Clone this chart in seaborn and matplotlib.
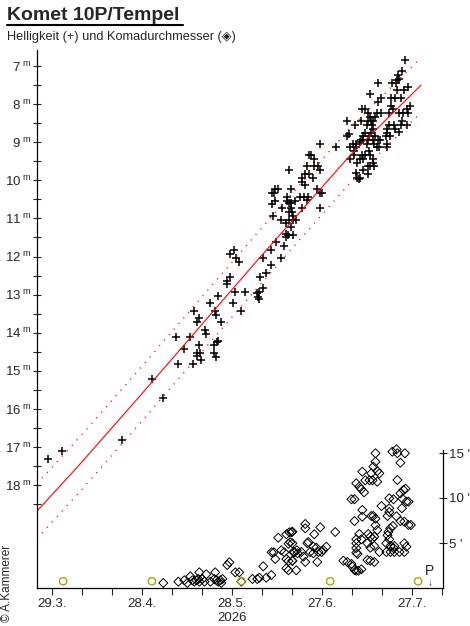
import matplotlib
matplotlib.use("Agg")
import pandas as pd
import matplotlib.pyplot as plt
import seaborn as sns
from matplotlib.lines import Line2D
from matplotlib.ticker import FixedLocator, MultipleLocator

# days counted from 29.3.2026
mag_day = [
    -1.1, 3.5, 23.4, 33.5, 37.2,
    60.9, 59.5, 61.5, 62.5, 59.5, 58.5, 58.5, 55.5, 52.9, 61.2, 64.5, 60.5, 63.2, 47.5, 54.5,
    54.7, 49.2, 48.5, 56.5, 51.2, 51.5, 41.5, 46.2, 55.5, 55.2, 49.2, 54.2, 44.2, 48.3, 49.5,
    48.5, 54.2, 54.7, 49.9, 42.2, 47.2,
    89.5, 94.7, 85.9, 86.5, 87.5, 85.2, 87.5, 88.9, 89.5, 79.2, 84.5, 85.9, 83.5, 87.2, 83.5,
    84.5, 79.7, 88.5, 74.5, 75.5, 73.5, 74.2, 89.5, 90.2, 78.5, 82.9, 84.2, 85.5, 74.5, 78.5,
    79.2, 79.9, 81.2, 73.5, 85.2, 76.9, 79.9, 83.5, 89.5, 79.2, 80.2, 80.5, 73.9, 76.5, 79.2,
    80.5, 81.5, 78.2, 79.9, 78.2, 78.2, 78.9, 80.5, 74.9, 77.5, 73.2, 70.5, 76.5, 73.2, 71.5,
    69.5, 70.5, 69.2, 68.5, 68.9, 69.2,
    117.9, 116.9, 115.5, 115.9, 115.2, 113.5, 114.9, 108.9, 118.9, 117.5, 115.2, 106.2, 113.2,
    114.5, 116.5, 109.9, 108.9,
    113.0, 119.4, 103.5, 104.5, 113.7, 118.3, 105.5, 108.5, 109.9, 112.5, 115.7, 117.0, 118.7,
    106.2, 107.9, 98.5, 103.2, 105.5, 106.5, 107.2, 116.7, 101.2, 105.2, 106.9, 112.5, 114.0,
    116.3, 118.3, 107.2, 111.9, 114.5, 104.5, 106.5, 111.9, 115.7, 98.5, 99.2, 103.9, 105.9,
    107.9, 111.5, 112.9, 103.2, 103.9, 105.5, 107.2, 108.9, 109.5, 100.5, 101.5, 102.9, 105.2,
    107.5, 111.9, 99.5, 101.5, 108.5, 109.2, 111.9, 100.9, 105.9, 100.9, 103.5, 104.5, 106.2,
    99.5, 102.9, 103.9, 107.2, 101.9, 107.2, 105.5, 106.2, 107.5, 103.9, 101.5, 105.5, 101.9,
    102.9, 102.5,
]
mag_val = [
    17.32, 17.11, 16.82, 15.22, 15.72,
    11.84, 11.94, 12.05, 12.14, 12.55, 12.64, 12.73, 13.04, 13.22, 12.94, 12.94, 13.22, 13.43,
    13.43, 13.43, 13.54, 13.62, 13.73, 13.73, 13.92, 14.04, 14.12, 14.12, 14.21, 14.25, 14.33,
    14.33, 14.44, 14.54, 14.54, 14.60, 14.54, 14.63, 14.72, 14.83, 14.83,
    9.06, 9.12, 9.34, 9.34, 9.44, 9.62, 9.62, 9.62, 9.74, 9.74, 9.83, 9.83, 9.95, 9.95, 10.05,
    10.12, 10.24, 10.24, 10.24, 10.24, 10.34, 10.34, 10.34, 10.34, 10.45, 10.45, 10.45, 10.45,
    10.55, 10.55, 10.60, 10.60, 10.55, 10.63, 10.52, 10.73, 10.73, 10.73, 10.73, 10.84, 10.84,
    10.94, 10.94, 11.05, 11.05, 11.05, 11.05, 11.13, 11.23, 11.42, 11.48, 11.44, 11.44, 11.62,
    11.73, 11.84, 12.04, 12.04, 12.23, 12.43, 12.54, 12.83, 12.93, 12.97, 13.07, 13.12,
    6.85, 7.14, 7.24, 7.35, 7.38, 7.45, 7.45, 7.45, 7.56, 7.64, 7.64, 7.74, 7.85, 7.85, 7.85,
    7.85, 7.95,
    8.05, 8.05, 8.14, 8.14, 8.14, 8.14, 8.24, 8.24, 8.24, 8.24, 8.24, 8.24, 8.24,
    8.35, 8.35, 8.45, 8.45, 8.45, 8.45, 8.45, 8.45, 8.56, 8.56, 8.56, 8.56, 8.56,
    8.56, 8.56, 8.66, 8.66, 8.66, 8.77, 8.77, 8.77, 8.74, 8.85, 8.79, 8.85, 8.85,
    8.85, 8.85, 8.85, 8.95, 8.95, 8.95, 8.95, 8.95, 8.95, 9.04, 9.04, 8.99, 9.04,
    9.04, 9.04, 9.13, 9.13, 9.13, 9.13, 9.13, 9.24, 9.24, 9.34, 9.34, 9.34, 9.34,
    9.45, 9.45, 9.45, 9.45, 9.55, 9.55, 9.62, 9.62, 9.62, 9.74, 9.82, 9.84, 9.93,
    9.93, 9.97,
]

coma_day = [
    37.2, 42.2, 44.2, 45.2, 46.2, 46.9, 47.5, 48.2, 48.9, 49.2, 49.2, 50.2, 50.9, 51.5, 52.9,
    54.5, 54.2, 54.9, 55.5, 56.2, 56.5, 56.9, 58.5, 59.2, 61.2, 62.5, 63.2, 66.9, 68.5, 69.2,
    71.5, 73.2, 70.5, 74.5, 73.3, 74.0, 76.5, 77.5, 75.5, 78.2, 79.2, 79.9, 78.9, 79.5, 78.2,
    78.9, 80.2, 80.9, 81.7, 78.2, 78.9, 81.5,
    80.2, 80.2, 80.5, 81.9, 80.2, 84.5, 84.5, 87.5, 89.5, 85.2, 85.5, 87.2, 88.2, 88.9, 89.9,
    90.5, 91.5, 83.2, 83.9, 84.5, 86.1, 87.2, 88.5, 94.5, 97.2, 98.5, 99.9,
    99.9, 100.9, 100.9, 101.5, 102.5, 103.2, 104.1, 103.5, 104.5, 105.9, 106.9, 106.5, 107.2,
    107.9, 107.9, 108.5, 108.5, 109.2, 103.5, 103.5, 106.5, 107.2, 107.9, 108.5, 107.9, 102.5,
    103.2, 101.5, 101.5, 101.5, 101.5, 101.9, 105.5, 106.2, 106.9, 107.5, 105.2, 106.2, 107.5,
    105.2, 106.2, 107.5, 100.2, 100.9, 101.5, 102.2, 103.2, 109.2, 109.9,
    112.5, 113.9, 112.5, 112.5, 111.9, 114.9, 116.2, 113.7, 112.8, 112.2, 111.9, 112.5, 111.5,
    112.9, 114.2, 113.9, 117.5, 118.2, 111.5, 112.9, 114.2, 115.9, 117.5, 117.5, 118.9, 119.7,
    117.2, 117.9, 115.2, 116.2, 116.9, 118.2, 118.9, 116.7, 113.5, 114.9, 115.2, 117.7, 116.2,
]
coma_val = [
    0.56, 0.70, 0.86, 0.56, 1.30, 0.86, 0.70, 0.86, 1.00, 0.70, 1.74, 1.00, 0.70, 1.52, 0.70,
    1.74, 1.00, 0.86, 0.70, 0.86, 0.56, 1.00, 2.56, 2.86, 1.74, 1.74, 0.70, 1.00, 1.00, 1.14,
    1.14, 1.44, 2.41, 3.22, 3.97, 3.97, 4.19, 3.97, 5.59, 5.97, 6.19, 6.19, 4.92, 5.08, 3.22,
    3.00, 3.00, 3.97, 4.19, 2.19, 1.97, 1.97,
    6.26, 4.97, 4.00, 3.86, 3.03, 7.11, 6.63, 5.97, 6.74, 4.97, 5.11, 4.59, 4.48, 4.00, 4.00,
    4.22, 4.59, 4.00, 3.48, 2.89, 4.00, 3.86, 2.89, 6.22, 3.03, 2.89, 2.67,
    9.86, 9.86, 7.44, 11.63, 11.26, 10.97, 10.63, 12.92, 11.97, 11.97, 11.97, 12.74, 13.48,
    14.03, 14.97, 13.00, 11.81, 12.74, 8.67, 7.92, 8.00, 8.00, 7.70, 6.44, 6.97, 6.00,
    5.41, 5.41, 4.97, 4.44, 3.92, 3.78, 6.00, 5.70, 5.48, 5.70, 4.97, 4.48, 4.67,
    3.11, 3.03, 2.89, 2.37, 2.00, 1.92, 1.92, 2.08, 4.00, 9.11,
    9.97, 9.86, 8.86, 8.44, 8.00, 7.97, 7.44, 6.89, 6.63, 6.22, 5.86, 5.41, 4.97,
    4.67, 4.67, 4.44, 4.97, 4.59, 4.00, 4.00, 4.00, 4.00, 4.00, 7.37, 7.00, 7.00,
    10.89, 11.03, 12.00, 10.52, 9.92, 9.59, 9.59, 8.86, 15.14, 15.41, 14.97, 14.97, 13.92,
]

# brightness fit (red) and its band
fit_day = [-4.9, 9.2, 29.4, 69.1, 99.4, 123.1]
fit_mag = [18.68, 17.47, 15.66, 12.05, 9.35, 7.50]
fit_band = 0.72

moon_day = [3.8, 33.4, 63.2, 92.8, 122.1]
perihel_day = 126

date_ticks = [0, 30, 60, 90, 120]
date_labels = ["29.3.", "28.4.", "28.5.", "27.6.", "27.7."]
mag_ticks = list(range(7, 19))
coma_ticks = [5, 10, 15]

sns.set_style("white")
plt.rcParams['font.family'] = ['Liberation Sans', 'DejaVu Sans']
plt.rcParams['mathtext.fontset'] = 'custom'
plt.rcParams['mathtext.rm'] = 'Liberation Sans'

mag_df = pd.DataFrame({"day": mag_day, "mag": mag_val})
coma_df = pd.DataFrame({"day": coma_day, "coma": coma_val})
fit_df = pd.DataFrame({"day": fit_day, "mag": fit_mag})
fit_df["upper"] = fit_df["mag"] - fit_band
fit_df["lower"] = fit_df["mag"] + fit_band

fig = plt.figure(figsize=(4.7, 6.26), dpi=100)
ax = fig.add_axes([37 / 470, 38 / 626, 406 / 470, 538 / 626])
ax2 = ax.twinx()

# brightness
sns.lineplot(data=fit_df, x="day", y="mag", ax=ax, color="red", lw=0.8, sort=False)
sns.lineplot(data=fit_df, x="day", y="upper", ax=ax, color="red", lw=1.0,
             linestyle=(0, (0.8, 4.5)), sort=False)
sns.lineplot(data=fit_df, x="day", y="lower", ax=ax, color="red", lw=1.0,
             linestyle=(0, (0.8, 4.5)), sort=False)
sns.scatterplot(data=mag_df, x="day", y="mag", ax=ax, marker="+", color="black",
                s=32, linewidth=1.1)

# coma diameter
sns.scatterplot(data=coma_df, x="day", y="coma", ax=ax2, marker="D", s=21,
                facecolor="none", edgecolor="black", linewidth=0.7)
sns.scatterplot(x=moon_day, y=[0.75] * len(moon_day), ax=ax2, marker="o", s=28,
                facecolor="none", edgecolor="#a8a800", linewidth=1.0)

ax.set_xlim(-4.9, 130.4)
ax.set_ylim(20.70, 6.58)
ax2.set_ylim(0, 538 / 9)

ax.xaxis.set_major_locator(FixedLocator(date_ticks))
ax.set_xticklabels(date_labels)
ax.xaxis.set_minor_locator(MultipleLocator(10))
ax.yaxis.set_major_locator(FixedLocator(mag_ticks))
ax.set_yticklabels([r"$\mathregular{%d^{\ m}}$" % m for m in mag_ticks])
ax.yaxis.set_minor_locator(FixedLocator([m + 0.5 for m in mag_ticks]))
ax2.yaxis.set_major_locator(FixedLocator(coma_ticks))
ax2.set_yticklabels(["%d '" % c for c in coma_ticks])

ax.tick_params(axis="y", which="both", direction="inout", length=6, width=0.8,
               labelsize=9.5, pad=1, left=True)
ax.tick_params(axis="x", which="both", direction="out", length=5, width=0.8,
               labelsize=9.5, pad=2, bottom=True)
ax2.tick_params(axis="y", which="both", direction="inout", length=6, width=0.8,
                labelsize=9.5, pad=1, right=True)

for s in ["top", "right"]:
    ax.spines[s].set_visible(False)
for s in ["top", "left", "bottom"]:
    ax2.spines[s].set_visible(False)
ax2.spines["right"].set_bounds(0, 15.3)
for sp in [ax.spines["left"], ax.spines["bottom"], ax2.spines["right"]]:
    sp.set_linewidth(0.9)
    sp.set_color("black")

ax.set_xlabel("2026", fontsize=9.5)
ax.xaxis.set_label_coords((231.7 - 37) / 406, -0.044)
ax.set_ylabel("")
ax2.set_ylabel("")

ax2.text(perihel_day, 1.9, "P", fontsize=10, ha="center", va="center")
ax2.text(perihel_day, 0.5, "↓", fontsize=7, ha="center", va="center")

fig.text(7 / 470, 1 - 16 / 626, "Komet 10P/Tempel", fontsize=14, fontweight="bold",
         va="center", ha="left")
fig.add_artist(Line2D([7 / 470, 183 / 470], [1 - 25 / 626] * 2, lw=1.5, color="black"))
fig.text(7 / 470, 1 - 37 / 626, "Helligkeit (+) und Komadurchmesser (◈)", fontsize=9.2,
         va="center", ha="left", family=["Liberation Sans", "DejaVu Sans"])
fig.text(7 / 470, 4 / 626, "© A.Kammerer", fontsize=8.5, rotation=90, ha="center",
         va="bottom")

fig.savefig("out.png", dpi=100, facecolor="white")
